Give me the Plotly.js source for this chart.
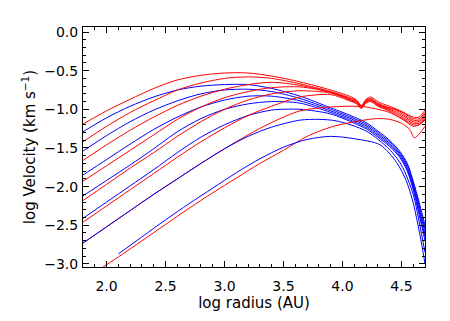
<!DOCTYPE html>
<html>
<head>
<meta charset="utf-8">
<script src="https://cdn.plot.ly/plotly-3.0.1.min.js"></script>
<style>
    body { margin: 0; background: #fff; }
    #chart { width: 450px; height: 321px; }
</style>
</head>
<body>
<div id="chart"></div>
<script>
// red curves R1..R6 share one x grid
var xRedA = [1.8, 2.0, 2.2, 2.4, 2.6, 2.8, 3.0, 3.2, 3.4, 3.64, 3.9, 4.06, 4.12, 4.16, 4.2, 4.24, 4.3, 4.38, 4.45, 4.52, 4.6, 4.65, 4.7];
var yRed1 = [-1.19, -1.02, -0.87, -0.73, -0.62, -0.56, -0.53, -0.53, -0.57, -0.645, -0.75, -0.83, -0.88, -0.95, -0.87, -0.84, -0.90, -0.95, -0.99, -1.04, -1.10, -1.10, -1.01];
var yRed2 = [-1.42, -1.22, -1.04, -0.89, -0.75, -0.66, -0.60, -0.58, -0.60, -0.67, -0.77, -0.85, -0.89, -0.96, -0.88, -0.86, -0.92, -0.97, -1.00, -1.05, -1.12, -1.12, -1.04];
var yRed3 = [-1.66, -1.46, -1.27, -1.10, -0.95, -0.83, -0.74, -0.68, -0.65, -0.69, -0.78, -0.86, -0.90, -0.96, -0.89, -0.87, -0.93, -0.98, -1.01, -1.07, -1.14, -1.14, -1.06];
var yRed4 = [-1.93, -1.73, -1.53, -1.33, -1.13, -0.97, -0.85, -0.77, -0.72, -0.71, -0.78, -0.87, -0.91, -0.97, -0.90, -0.88, -0.94, -0.99, -1.03, -1.09, -1.16, -1.16, -1.08];
var yRed5 = [-2.18, -1.97, -1.76, -1.56, -1.35, -1.16, -1.00, -0.88, -0.80, -0.76, -0.79, -0.88, -0.92, -0.98, -0.91, -0.89, -0.95, -1.00, -1.05, -1.11, -1.18, -1.18, -1.10];
var yRed6 = [-2.46, -2.25, -2.04, -1.83, -1.62, -1.42, -1.24, -1.08, -0.96, -0.84, -0.81, -0.89, -0.93, -0.99, -0.92, -0.90, -0.96, -1.01, -1.07, -1.13, -1.20, -1.20, -1.12];

var xRed7 = [1.8, 2.0, 2.2, 2.4, 2.6, 2.8, 3.0, 3.2, 3.4, 3.64, 3.9, 4.1, 4.2, 4.3, 4.38, 4.45, 4.52, 4.6, 4.65, 4.7];
var yRed7 = [-2.73, -2.52, -2.31, -2.10, -1.90, -1.70, -1.51, -1.33, -1.17, -1.02, -0.97, -0.96, -0.97, -1.00, -1.03, -1.08, -1.14, -1.22, -1.20, -1.14];

var xRed8 = [1.9, 2.1, 2.3, 2.5, 2.7, 2.9, 3.1, 3.3, 3.5, 3.7, 3.9, 4.1, 4.29, 4.4, 4.5, 4.57, 4.61, 4.65, 4.7];
var yRed8 = [-3.11, -2.91, -2.70, -2.49, -2.28, -2.08, -1.89, -1.70, -1.53, -1.35, -1.23, -1.16, -1.12, -1.13, -1.18, -1.26, -1.37, -1.32, -1.22];

// blue curves B1..B5 share one x grid
var xBlueA = [1.8, 2.0, 2.2, 2.4, 2.6, 2.8, 3.0, 3.2, 3.4, 3.64, 3.9, 4.1, 4.21, 4.3, 4.4, 4.49, 4.55, 4.6, 4.65, 4.7];
var yBlue1 = [-1.29, -1.11, -0.96, -0.84, -0.75, -0.70, -0.68, -0.68, -0.73, -0.83, -0.98, -1.10, -1.18, -1.28, -1.40, -1.55, -1.70, -1.93, -2.20, -2.50];
var yBlue2 = [-1.54, -1.34, -1.16, -1.01, -0.89, -0.80, -0.75, -0.74, -0.77, -0.86, -1.00, -1.12, -1.20, -1.30, -1.42, -1.57, -1.72, -1.95, -2.24, -2.55];
var yBlue3 = [-1.85, -1.65, -1.45, -1.26, -1.10, -0.97, -0.88, -0.83, -0.83, -0.89, -1.02, -1.14, -1.22, -1.32, -1.44, -1.59, -1.75, -1.98, -2.28, -2.60];
var yBlue4 = [-2.12, -1.92, -1.72, -1.51, -1.29, -1.12, -1.00, -0.93, -0.90, -0.92, -1.04, -1.16, -1.24, -1.34, -1.46, -1.61, -1.78, -2.01, -2.32, -2.65];
var yBlue5 = [-2.41, -2.20, -1.99, -1.78, -1.56, -1.36, -1.20, -1.08, -1.01, -1.00, -1.06, -1.18, -1.26, -1.36, -1.48, -1.63, -1.80, -2.04, -2.36, -2.70];

var xBlue6 = [1.8, 2.0, 2.2, 2.4, 2.6, 2.8, 3.0, 3.2, 3.4, 3.64, 3.8, 3.95, 4.2, 4.4, 4.5, 4.6, 4.65, 4.7];
var yBlue6 = [-2.73, -2.52, -2.31, -2.10, -1.90, -1.70, -1.51, -1.35, -1.23, -1.14, -1.13, -1.15, -1.28, -1.52, -1.72, -2.10, -2.45, -2.85];

var xBlue7 = [2.1, 2.3, 2.5, 2.7, 2.9, 3.1, 3.3, 3.5, 3.7, 3.9, 4.1, 4.32, 4.46, 4.54, 4.6, 4.67, 4.7];
var yBlue7 = [-2.87, -2.65, -2.43, -2.22, -2.02, -1.82, -1.64, -1.49, -1.39, -1.35, -1.38, -1.46, -1.69, -1.92, -2.21, -2.73, -3.0];

var redColor = '#ff0000';
var blueColor = '#0000ff';
var fontName = 'DejaVu Sans, sans-serif';

window.onload = function() {
    initChart();
};

function makeTrace(x, y, color) {
    return {
        x: x,
        y: y,
        mode: 'lines',
        line: { color: color, width: 1, shape: 'spline', smoothing: 0.8 },
        hoverinfo: 'skip'
    };
}

function makeAxis(range, titleText, labelGap, titleGap) {
    return {
        range: range,
        dtick: 0.5,
        tick0: 0,
        tickformat: '.1f',
        ticks: 'inside',
        ticklen: 6,
        tickwidth: 1,
        tickcolor: '#000',
        mirror: 'allticks',
        showline: true,
        linecolor: '#000',
        linewidth: 1,
        showgrid: false,
        zeroline: false,
        ticklabelstandoff: labelGap,
        tickfont: { family: fontName, size: 14, color: '#000' },
        minor: { ticks: 'inside', dtick: 0.1, ticklen: 3, tickwidth: 1, tickcolor: '#000', showgrid: false },
        title: { text: titleText, font: { family: fontName, size: 15, color: '#000' }, standoff: titleGap }
    };
}

function initChart() {
    let data = [
        makeTrace(xRedA, yRed1, redColor),
        makeTrace(xBlueA, yBlue1, blueColor),
        makeTrace(xRedA, yRed2, redColor),
        makeTrace(xBlueA, yBlue2, blueColor),
        makeTrace(xRedA, yRed3, redColor),
        makeTrace(xBlueA, yBlue3, blueColor),
        makeTrace(xRedA, yRed4, redColor),
        makeTrace(xBlueA, yBlue4, blueColor),
        makeTrace(xRedA, yRed5, redColor),
        makeTrace(xBlueA, yBlue5, blueColor),
        makeTrace(xRedA, yRed6, redColor),
        makeTrace(xRed7, yRed7, redColor),
        makeTrace(xBlue6, yBlue6, blueColor),
        makeTrace(xRed8, yRed8, redColor),
        makeTrace(xBlue7, yBlue7, blueColor)
    ];

    let layout = {
        width: 450,
        height: 321,
        margin: { l: 83, r: 25, t: 27, b: 54 },
        showlegend: false,
        paper_bgcolor: '#fff',
        plot_bgcolor: '#fff',
        font: { family: fontName, color: '#000' },
        xaxis: makeAxis([1.8, 4.7], 'log radius (AU)', 6, 2),
        yaxis: makeAxis([-3.04, 0.065], 'log Velocity (km s<sup>\u22121</sup>)', 1, 4)
    };

    Plotly.newPlot('chart', data, layout, { staticPlot: true });
}
</script>
</body>
</html>
